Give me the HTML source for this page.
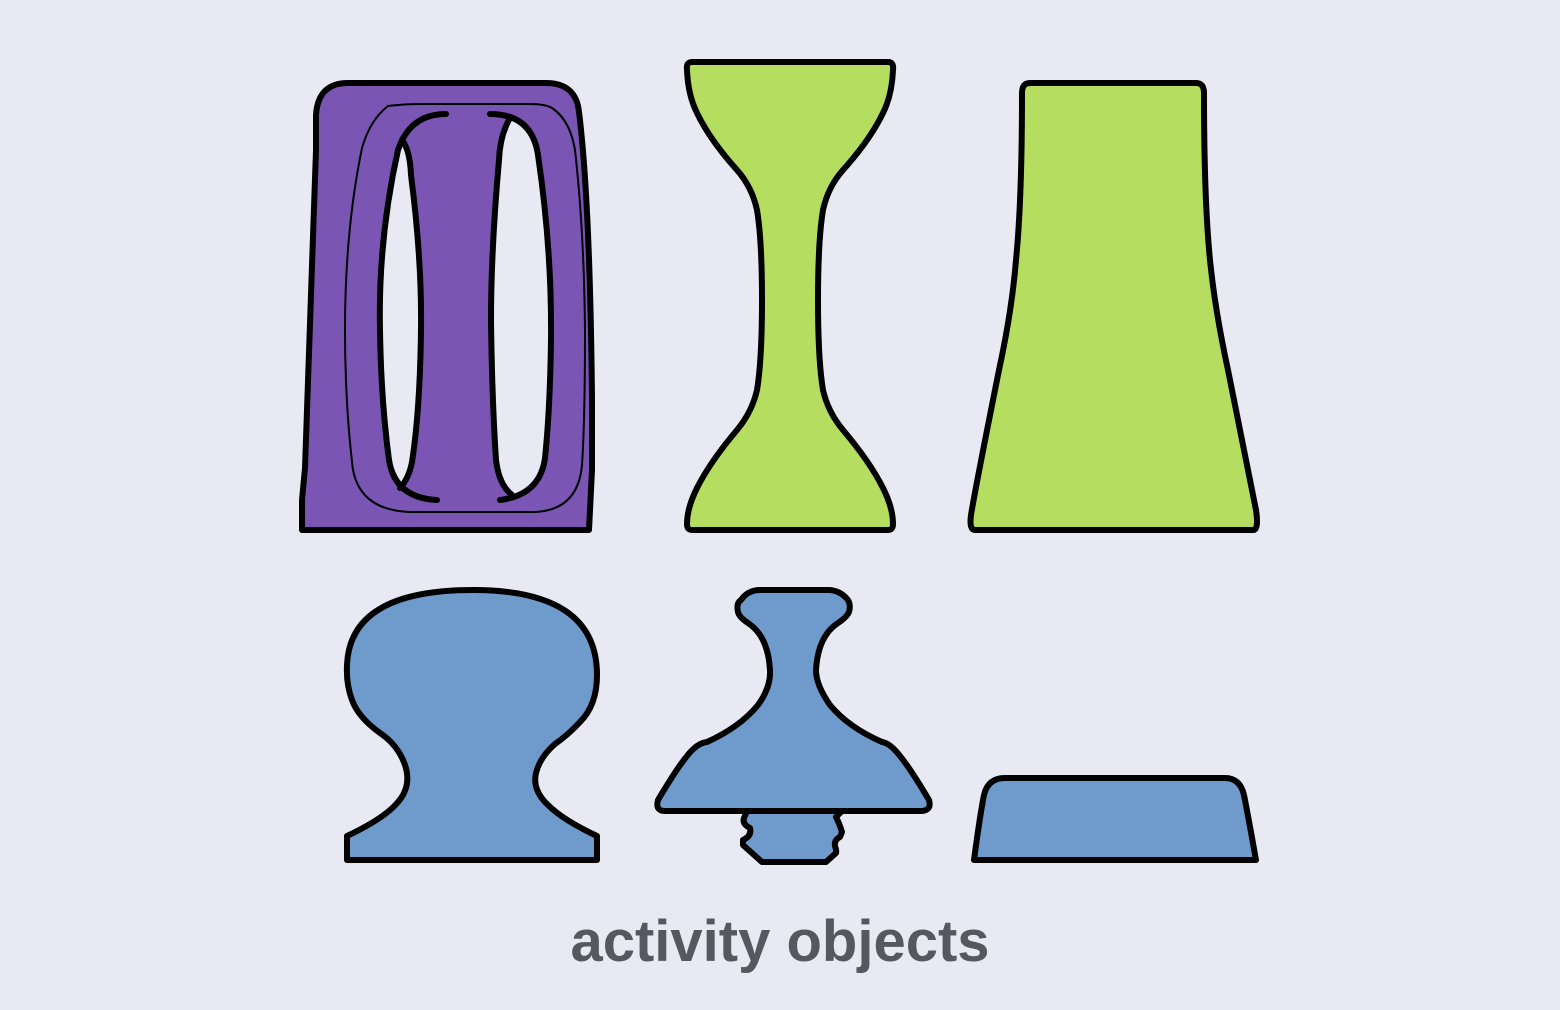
<!DOCTYPE html>
<html>
<head>
<meta charset="utf-8">
<style>
  html,body{margin:0;padding:0;background:#e9e9f4;}
  svg{display:block;}
  text{font-family:"Liberation Sans",sans-serif;}
</style>
</head>
<body>
<svg width="1560" height="1010" viewBox="0 0 1560 1010" xmlns="http://www.w3.org/2000/svg">
  <rect x="0" y="0" width="1560" height="1010" fill="#e9e9f4"/>
  <g stroke="#000" stroke-width="6" stroke-linejoin="round" stroke-linecap="round">
    <!-- purple block -->
    <g>
      <path fill="#7b55b3" d="M302,530 L302,500 L305,468 L316,150 L316,115 Q318,83 348,83 L546,83 Q576,83 579,112 Q590,200 592,400 L592,470 L589,530 Z"/>
      <path fill="none" stroke-width="2" d="M388,106 Q405,104 420,104 L530,104 Q545,104 552,108 Q570,120 575,150 Q584,230 585,330 Q585,420 582,465 Q578,510 535,512 L410,512 Q356,510 352,462 Q345,400 345,330 Q345,230 362,148 Q370,120 388,106 Z"/>
      <path fill="#e9e9f4" stroke="none" d="M402,140 Q410,150 411,175 Q422,260 421,330 Q420,410 412,462 Q409,478 400,488 Q392,478 389,460 Q379,400 380,330 Q380,240 398,150 Z"/>
      <path fill="#e9e9f4" stroke="none" d="M510,118 Q500,135 499,160 Q491,250 491,320 Q492,400 496,460 Q499,485 512,495 Q540,485 545,458 Q550,400 550,340 Q550,250 537,155 Q533,128 510,118 Z"/>
      <path fill="none" d="M446,114 Q410,114 398,150 Q378,240 380,330 Q381,400 389,460 Q395,498 437,500"/>
      <path fill="none" d="M402,140 Q410,150 411,175 Q422,260 421,330 Q420,410 412,462 Q409,478 400,488"/>
      <path fill="none" d="M490,114 Q532,114 538,155 Q552,250 551,340 Q550,410 545,458 Q540,495 500,500"/>
      <path fill="none" d="M510,118 Q500,135 499,160 Q491,250 491,320 Q492,400 496,460 Q499,485 512,495"/>
    </g>
    <!-- green hourglass -->
    <path fill="#b5de60" d="M692,62 L888,62 Q894,62 893,70 Q892,95 883,113 Q870,140 843,170 Q828,187 823,210 Q818,240 818,300 Q818,360 823,390 Q828,412 843,430 Q870,462 883,488 Q893,508 893,524 Q893,530 888,530 L692,530 Q687,530 687,524 Q687,508 697,488 Q710,462 737,430 Q752,412 757,390 Q762,360 762,300 Q762,240 757,210 Q752,187 737,170 Q710,140 697,113 Q688,95 687,70 Q686,62 692,62 Z"/>
    <!-- green trapezoid -->
    <path fill="#b5de60" d="M1030,83 L1196,83 Q1204,83 1204,93 Q1204,200 1210,260 Q1215,310 1228,370 Q1252,490 1256,510 Q1259,530 1253,530 L975,530 Q969,530 971,515 Q975,490 999,370 Q1012,310 1016,260 Q1022,200 1022,93 Q1022,83 1030,83 Z"/>
    <!-- blue mushroom -->
    <path fill="#6e9bcb" d="M347,860 L347,836 Q385,818 398,802 Q412,786 405,765 Q398,745 380,733 Q358,717 352,700 Q346,684 347,665 Q350,590 473,590 Q597,590 597,675 Q597,705 580,722 Q568,735 555,744 Q540,757 536,773 Q532,790 548,805 Q563,820 597,836 L597,860 Z"/>
    <!-- blue tower -->
    <path fill="#6e9bcb" d="M760,590 L828,590 Q840,590 848,600 Q851,605 849,612 Q847,617 838,623 Q818,636 816,670 Q816,685 830,705 Q848,727 882,742 Q890,743 900,756 Q910,768 929,800 Q932,810 922,811 L842,811 L836,817 Q840,825 842,832 L840,837 Q834,840 835,846 Q837,852 836,853 L826,862 L762,862 L743,845 L743,840 Q752,836 750,828 Q742,824 744,818 L747,811 L665,811 Q655,811 658,800 Q677,768 687,756 Q697,743 707,742 Q740,727 758,705 Q771,687 770,670 Q768,636 748,623 Q739,617 738,612 Q736,603 741,600 Q748,590 760,590 Z"/>
    <path fill="none" d="M747,811 L842,811"/>
    <!-- blue trapezoid -->
    <path fill="#6e9bcb" d="M1005,778 L1225,778 Q1240,778 1244,795 Q1248,815 1256,860 L974,860 Q980,815 984,795 Q988,778 1005,778 Z"/>
  </g>
  <text x="780" y="961" text-anchor="middle" font-size="58" font-weight="bold" fill="#55585e">activity objects</text>
</svg>
</body>
</html>
